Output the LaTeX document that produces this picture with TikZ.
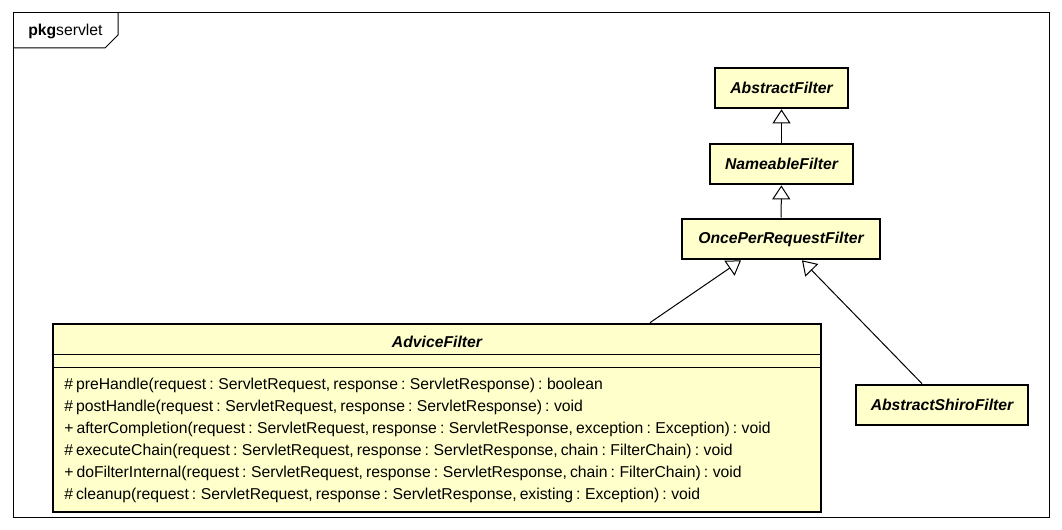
\documentclass[tikz,border=0pt]{standalone}
\usepackage{fontspec}
\setmainfont{Liberation Sans}
\usetikzlibrary{arrows.meta}
\definecolor{classfill}{RGB}{255,255,204}
\newcommand{\px}{0.75pt}
\newcommand{\opsfont}{\fontsize{11.8}{16.4}\selectfont\spaceskip=2.3pt plus 0.5pt\relax}

\begin{document}
\begin{tikzpicture}[x=0.75pt,y=-0.75pt,
	class/.style={draw,line width=2pt,fill=classfill,inner sep=0pt,
		font=\fontsize{11.8}{14}\selectfont\bfseries\itshape},
	classname/.style={inner sep=0pt,font=\fontsize{11.8}{14}\selectfont\bfseries\itshape},
	inherit/.style={-{Triangle[open,length=10.5pt,width=13.5pt,fill=white]},line width=0.75pt}]
	
	\useasboundingbox (0,0) rectangle (1062,530);
	
	%------------------------------
	% Package frame
	%------------------------------
	\draw[line width=0.75pt] (13,13) rectangle (1049,517);
	\draw[line width=0.75pt] (13,48) -- (105,48) -- (118,35) -- (118,13);
	\node[anchor=west,inner sep=0pt,font=\fontsize{11.8}{14}\selectfont] (pkg) at (28,31)
	{\textbf{pkg}servlet};
	
	%------------------------------
	% Filter hierarchy
	%------------------------------
	\node[class,minimum width=133*\px,minimum height=40*\px] (abstract) at (781.5,88) {AbstractFilter};
	\node[class,minimum width=143*\px,minimum height=40*\px] (nameable) at (781.5,164) {NameableFilter};
	\node[class,minimum width=198*\px,minimum height=40*\px] (once) at (781,239) {OncePerRequestFilter};
	\node[class,minimum width=172*\px,minimum height=40*\px] (shiro) at (942,405) {AbstractShiroFilter};
	
	% AdviceFilter with compartments
	\node[class,minimum width=768*\px,minimum height=188*\px] (advice) at (437,418) {};
	\node[classname] (advicename) at (437,342) {AdviceFilter};
	\draw[line width=0.75pt] (advice.west |- 0,355) -- (advice.east |- 0,355);
	\draw[line width=0.75pt] (advice.west |- 0,367) -- (advice.east |- 0,367);
	\node[anchor=north west,inner sep=0pt,align=left,font=\opsfont] (ops) at (64,378)
	{\# preHandle(request : ServletRequest, response : ServletResponse) : boolean\\
		\# postHandle(request : ServletRequest, response : ServletResponse) : void\\
		+ afterCompletion(request : ServletRequest, response : ServletResponse, exception : Exception) : void\\
		\# executeChain(request : ServletRequest, response : ServletResponse, chain : FilterChain) : void\\
		+ doFilterInternal(request : ServletRequest, response : ServletResponse, chain : FilterChain) : void\\
		\# cleanup(request : ServletRequest, response : ServletResponse, existing : Exception) : void};
	
	% Generalizations
	\draw[inherit] (nameable) -- (abstract);
	\draw[inherit] (once) -- (nameable);
	\draw[inherit] ([xshift=159.75pt]advice.north) -- ([xshift=-30pt]once.south);
	\draw[inherit] ([xshift=-15pt]shiro.north) -- ([xshift=15.75pt]once.south);
	
\end{tikzpicture}
\end{document}
